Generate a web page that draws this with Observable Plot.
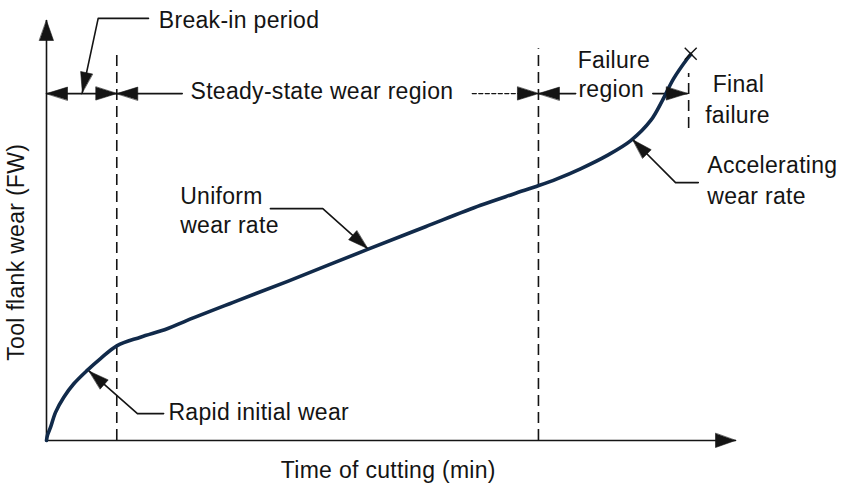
<!DOCTYPE html>
<html><head><meta charset="utf-8">
<script src="https://cdn.jsdelivr.net/npm/d3@7"></script>
<script src="https://cdn.jsdelivr.net/npm/@observablehq/plot@0.6"></script>
<style>body{margin:0;background:#fff}#chart{width:846px;height:488px}</style>
</head><body><div id="chart"></div>
<script>
// ---- Data (time and wear in arbitrary schematic units, 0–100) ----
const time = [0, 0.15, 0.58, 1.31, 2.51, 3.96, 5.91, 7.84, 10.26, 13.64, 17.52, 20.42, 27.1, 35, 46.6, 55, 63.0, 67.8, 71.45, 74.1, 77.5, 81.4, 84.8, 87.7, 89.4, 91.0, 93.0, 93.5];
const wear = [0, 1.3, 3.1, 6.7, 10.3, 13.5, 16.7, 19.5, 22.6, 24.6, 26.6, 28.6, 32.9, 37.9, 45.5, 50.9, 56.0, 58.7, 60.7, 62.3, 64.7, 67.9, 71.4, 76.2, 81.0, 86.1, 90.9, 91.9];

const breakInEnd = 10.2;      // end of break-in period
const failureStart = 71.4;    // start of failure region
const finalFailure = 93.2;    // final failure
const rangeLevel = 82.6;      // height of the region arrows

// dashed boundary lines: [time, wearFrom, wearTo]
const boundaries = [[breakInEnd, 0, 92.9], [failureStart, 0, 93.3], [finalFailure, 74.3, 87.4]];

// text labels: [text, time, wear]
const labelText = ["Break-in period", "Steady-state wear region", "Failure", "region", "Final", "failure",
  "Accelerating", "wear rate", "Uniform", "wear rate", "Rapid initial wear", "Time of cutting (min)"];
const labelTime = [16.3, 20.9, 77.1, 77.2, 96.7, 95.6, 95.9, 95.9, 19.4, 19.4, 17.7, 34.0];
const labelWear = [98.1, 81.4, 88.6, 81.7, 82.9, 75.7, 63.6, 56.4, 56.4, 49.5, 4.8, -9.0];
const yLabel = ["Tool flank wear (FW)", -3.3, 19.0];

// arrows: polyline points, head at the last point; kind sets head size
const arrows = [
  {kind: "axis", pts: [[0, 0], [0, 100]]},
  {kind: "axis", pts: [[0, 0], [100, 0]]},
  {kind: "range", pts: [[5.1, rangeLevel], [0, rangeLevel]]},
  {kind: "range", pts: [[5.1, rangeLevel], [breakInEnd, rangeLevel]]},
  {kind: "range", pts: [[19.7, rangeLevel], [breakInEnd, rangeLevel]]},
  {kind: "range", dashed: true, pts: [[61.8, rangeLevel], [failureStart, rangeLevel]]},
  {kind: "range", pts: [[76.8, rangeLevel], [failureStart, rangeLevel]]},
  {kind: "range", pts: [[88.0, rangeLevel], [93.0, rangeLevel]]},
  {kind: "leader", pts: [[14.8, 100.5], [7.5, 100.5], [5.2, 82.9]]},
  {kind: "leader", pts: [[32.5, 55.2], [40.1, 55.2], [46.6, 45.7]]},
  {kind: "leader", pts: [[94.6, 61.4], [91.3, 61.4], [85.1, 71.6]]},
  {kind: "leader", pts: [[17.0, 6.4], [13.2, 6.4], [6.2, 16.5]]}
];
const failurePoint = [93.5, 92.1];

// ---- Layout ----
const W = 846, H = 488;
const mL = 46, mR = 111, mT = 20, mB = 48;
const font = "'Liberation Sans', Arial, Helvetica, sans-serif";
const ink = "#141414";
const curveColor = "#112a4a";

const sx = d3.scaleLinear([0, 100], [mL, W - mR]);
const sy = d3.scaleLinear([0, 100], [H - mB, mT]);
const headSize = {axis: [20, 7], range: [21, 6.5], leader: [20, 6]};

const curve = time.map((t, i) => ({t, w: wear[i]}));
const shafts = [], shaftsDashed = [], heads = [];
arrows.forEach((a, id) => {
  const target = a.dashed ? shaftsDashed : shafts;
  a.pts.forEach(([x, y]) => target.push({id, x, y}));
  const [tx, ty] = a.pts[a.pts.length - 1];
  const [px, py] = a.pts[a.pts.length - 2];
  const TX = sx(tx), TY = sy(ty), PX = sx(px), PY = sy(py);
  const d = Math.hypot(TX - PX, TY - PY), ux = (TX - PX) / d, uy = (TY - PY) / d;
  const [L, hw] = headSize[a.kind];
  const bx = TX - ux * L, by = TY - uy * L;
  [[TX, TY], [bx - uy * hw, by + ux * hw], [bx + uy * hw, by - ux * hw]]
    .forEach(([X, Y]) => heads.push({id, x: sx.invert(X), y: sy.invert(Y)}));
});
const labels = labelText.map((text, i) => ({text, x: labelTime[i], y: labelWear[i]}));

const plot = Plot.plot({
  width: W, height: H,
  marginLeft: mL, marginRight: mR, marginTop: mT, marginBottom: mB,
  x: {domain: [0, 100], axis: null},
  y: {domain: [0, 100], axis: null},
  style: {background: "#fff", fontFamily: font},
  marks: [
    Plot.ruleX(boundaries, {x: d => d[0], y1: d => d[1], y2: d => d[2], stroke: ink, strokeWidth: 1.6, strokeDasharray: "11,6"}),
    Plot.line(shafts, {x: "x", y: "y", z: "id", stroke: ink, strokeWidth: 1.6}),
    Plot.line(shaftsDashed, {x: "x", y: "y", z: "id", stroke: ink, strokeWidth: 1.4, strokeDasharray: "4,2.5"}),
    Plot.line(curve, {x: "t", y: "w", stroke: curveColor, strokeWidth: 3.6, curve: "catmull-rom"}),
    Plot.line(heads, {x: "x", y: "y", z: "id", fill: ink, stroke: ink, strokeWidth: 0.6, curve: "linear-closed"}),
    Plot.dot([failurePoint], {x: d => d[0], y: d => d[1], symbol: "times", r: 5.5, stroke: ink, strokeWidth: 1.4}),
    Plot.text(labels, {x: "x", y: "y", text: "text", textAnchor: "start", lineAnchor: "bottom", fontSize: 23, fill: ink, fontFamily: font}),
    Plot.text([yLabel], {x: d => d[1], y: d => d[2], text: d => d[0], rotate: -90, textAnchor: "start", lineAnchor: "bottom", fontSize: 23, fill: ink, fontFamily: font})
  ]
});
plot.style.letterSpacing = "0.3px";
document.getElementById("chart").appendChild(plot);
</script>
</body></html>
